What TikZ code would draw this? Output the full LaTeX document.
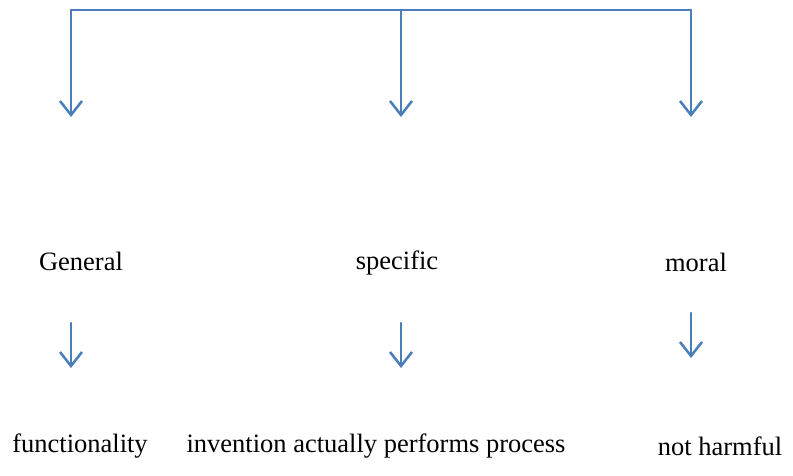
\documentclass[tikz,border=0pt]{standalone}
\usepackage{fontspec}
\setmainfont{Liberation Serif}
\usetikzlibrary{arrows.meta}
\definecolor{linkblue}{HTML}{4A7EBB}
\begin{document}
\begin{tikzpicture}
	[
		x=1pt,
		y=-1pt,
		line cap=round,
		line join=round,
		>={Straight Barb[length=14pt,width=22pt,line width=2.5pt]},
		link/.style={->,line width=2.5pt,color=linkblue},
		word/.style={inner sep=0pt,anchor=base,font=\fontsize{26.5}{30}\selectfont}
	]
		\useasboundingbox (0,0) rectangle (793,476);
		% top bar
		\coordinate (tl) at (71,10);
		\coordinate (tm) at (401,10);
		\coordinate (tr) at (691,10);
		\coordinate (al) at (71,117);
		\coordinate (am) at (401,117);
		\coordinate (ar) at (691,117);
		\draw [line width=2.5pt,color=linkblue] (tl) -- (tr);
		\draw [link] (tl) -- (al);
		\draw [link] (tm) -- (am);
		\draw [link] (tr) -- (ar);
		% labels
		\node [word] (general) at (81,270) {General};
		\node [word] (specific) at (397,269) {specific};
		\node [word] (moral) at (696,271) {moral};
		\coordinate (gs) at (71,323);
		\coordinate (ge) at (71,368);
		\coordinate (ss) at (401,323);
		\coordinate (se) at (401,368);
		\coordinate (ms) at (691,313);
		\coordinate (me) at (691,358);
		\draw [link] (gs) -- (ge);
		\draw [link] (ss) -- (se);
		\draw [link] (ms) -- (me);
		\node [word] (function) at (80,452) {functionality};
		\node [word] (perform) at (376,452) {invention actually performs process};
		\node [word] (harm) at (720,455) {not harmful};
	\end{tikzpicture}
\end{document}
